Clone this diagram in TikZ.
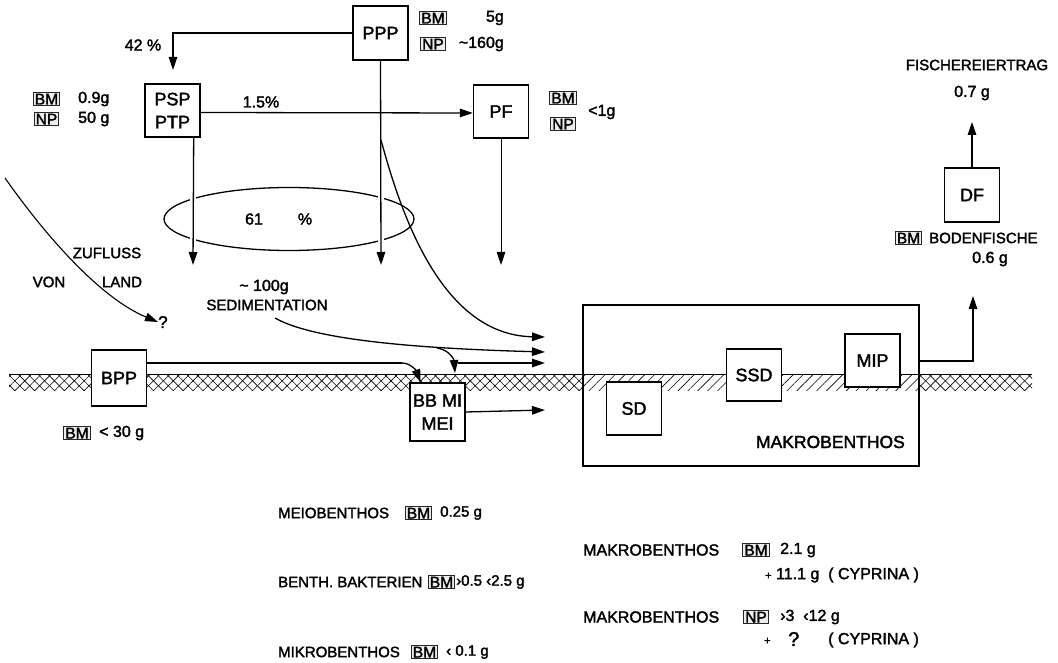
\documentclass[tikz,border=0pt]{standalone}
\usepackage{fontspec}
\setmainfont{Liberation Sans}[FakeBold=2]
\usetikzlibrary{arrows.meta,patterns.meta,shapes.geometric}
\begin{document}
\begin{tikzpicture}[x=1pt,y=-1pt,
  box/.style={draw, line width=1.4pt, fill=white, minimum width=55pt, minimum height=54pt, inner sep=0pt, align=center, font=\fontsize{18}{23}\selectfont},
  tag/.style={draw=black!85, fill=black!7, line width=1pt, inner xsep=1.6pt, inner ysep=1.4pt, text height=11pt, text depth=0pt, font=\fontsize{15.5}{14}\selectfont},
  lbl/.style={inner sep=0pt, font=\fontsize{16}{18}\selectfont},
  sml/.style={inner sep=0pt, font=\fontsize{15}{18}\selectfont},
  con/.style={line width=1.3pt},
  arr/.style={con, -{Triangle[length=13pt,width=8.5pt]}},
  mask/.style={draw=white, line width=6pt}]
\useasboundingbox (0,0) rectangle (1058,663);
\fill[white] (0,0) rectangle (1058,663);

% ground (sediment) band
\fill[pattern={Lines[angle=45,distance=7pt,line width=0.6pt]}] (9,374) rectangle (583,390);
\fill[pattern={Lines[angle=-45,distance=7pt,line width=0.6pt]}] (9,374) rectangle (583,390);
\fill[pattern={Lines[angle=45,distance=7pt,line width=0.6pt]}] (583,374) rectangle (919,390);
\fill[pattern={Lines[angle=45,distance=7pt,line width=0.6pt]}] (919,374) rectangle (1032,390);
\fill[pattern={Lines[angle=-45,distance=7pt,line width=0.6pt]}] (919,374) rectangle (1032,390);
\draw[line width=0.9pt] (9,374) -- (1032,374);

% makrobenthos container
\node[draw, line width=1.4pt, minimum width=336pt, minimum height=161pt, inner sep=0pt] (MB) at (751,385.5) {};
\node[lbl, anchor=east, font=\fontsize{17.5}{18}\selectfont] (mbl) at (905,442) {MAKROBENTHOS};

% boxes
\node[box] (PPP) at (380.5,33) {PPP};
\node[box, minimum height=53pt] (PSP) at (172.5,110.5) {PSP\\PTP};
\node[box, minimum height=53pt] (PF) at (501,111.5) {PF};
\node[box, minimum height=56pt] (BPP) at (119,378) {BPP};
\node[box, minimum height=58pt] (BB) at (437.5,412) {BB MI\\MEI};
\node[box, minimum height=53pt] (SD) at (634,408.5) {SD};
\node[box, minimum height=52pt] (SSD) at (754,375) {SSD};
\node[box, minimum height=53pt] (MIP) at (872.5,360.5) {MIP};
\node[box] (DF) at (972,195) {DF};

% ellipse 61 %
\node[draw, ellipse, line width=1.3pt, minimum width=250pt, minimum height=63pt, inner sep=0pt] (ell) at (289,219) {};
\node[lbl] (p61) at (254,219) {61};
\node[lbl] (pct) at (305,219) {\%};
\draw[mask] (193,180) -- (193,258);
\draw[mask] (381,180) -- (381,258);

% free end coordinates
\coordinate (t42) at (173,70);
\coordinate (tPSP) at (193,265);
\coordinate (tPPP) at (381,265);
\coordinate (tPF) at (501,265);
\coordinate (cPPP) at (381,140);
\coordinate (eCurve) at (545,337);
\coordinate (sedst) at (275,318);
\coordinate (sedbr) at (437,348);
\coordinate (eSed) at (545,352);
\coordinate (eSedB) at (455,373);
\coordinate (bppK) at (402,363);
\coordinate (bppR) at (458,363);
\coordinate (eBPP) at (545,363);
\coordinate (eBB) at (545,410);
\coordinate (land) at (5,178);
\coordinate (tDF) at (972,122);
\coordinate (tMB) at (973,296);

% connectors
\draw[arr] (PPP.west) -| (t42);
\draw[arr] ([xshift=-7pt]PSP.south east) -- (tPSP);
\draw[arr] (PPP.south) -- (tPPP);
\draw[arr, line width=1pt] (PF.south) -- (tPF);
\draw[arr] ([yshift=-2pt]PSP.east) -- ([yshift=-1.5pt]PF.west);
\draw[arr] (cPPP) .. controls (400,210) and (440,335) .. (eCurve);
\draw[arr] (sedst) .. controls (310,338) and (400,348) .. (eSed);
\draw[arr] (sedbr) .. controls (450,350) and (454,360) .. (eSedB);
\draw[con] ([yshift=15pt]BPP.east) -- (bppK);
\draw[arr] (bppK) .. controls (410,363) and (416,370) .. ([xshift=-17pt]BB.north);
\draw[arr] (bppR) -- (eBPP);
\draw[arr] (BB.east) -- (eBB);
\draw[arr] ([yshift=24.5pt]MB.east) -| (tMB);
\draw[arr] (DF.north) -- (tDF);

% von land
\node[lbl, anchor=west, font=\fontsize{17}{18}\selectfont] (q) at (158,322) {?};
\draw[arr, line width=1.1pt] (land) .. controls (45,235) and (100,298) .. (q.west);
\node[sml] (zu) at (107,253) {ZUFLUSS};
\node[sml] (von) at (49,282) {VON};
\node[sml] (lnd) at (122,282) {LAND};

% labels
\node[lbl] (l42) at (143,45) {42 \%};
\node[lbl] (l15) at (261,102) {1.5\%};
\node[lbl] (sed1) at (264,287) {\textasciitilde\ 100g};
\node[sml] (sed2) at (267,305) {SEDIMENTATION};

\node[tag] (bm1) at (46.5,99) {BM};
\node[lbl, anchor=west] at (78,99) {0.9g};
\node[tag] (np1) at (46.5,119) {NP};
\node[lbl, anchor=west] at (78,119) {50 g};

\node[tag] (bm2) at (433,18) {BM};
\node[lbl, anchor=east] at (504,18) {5g};
\node[tag] (np2) at (433,44) {NP};
\node[lbl, anchor=east] at (504,44) {\textasciitilde160g};

\node[tag] (bm3) at (563,98) {BM};
\node[tag] (np3) at (563,124) {NP};
\node[lbl, anchor=west] at (588,112) {<1g};

\node[tag] (bm4) at (77,433) {BM};
\node[lbl, anchor=west] at (99,433) {< 30 g};

\node[sml] (fe) at (977,65) {FISCHEREIERTRAG};
\node[lbl] (fe2) at (972,93) {0.7 g};
\node[tag] (bm5) at (908.5,238) {BM};
\node[sml, anchor=west] at (929,238) {BODENFISCHE};
\node[lbl] at (990,259) {0.6 g};

% bottom legend
\node[sml, anchor=west] at (278,513) {MEIOBENTHOS};
\node[tag] at (418.5,513) {BM};
\node[sml, anchor=west] at (440,513) {0.25 g};
\node[sml, anchor=west] at (278,582) {BENTH. BAKTERIEN};
\node[tag] at (441.5,582) {BM};
\node[sml, anchor=west] at (456,582) {›0.5 ‹2.5 g};
\node[sml, anchor=west] at (278,652) {MIKROBENTHOS};
\node[tag] at (424.5,652) {BM};
\node[sml, anchor=west] at (446,652) {‹ 0.1 g};

\node[lbl, anchor=west] at (583,550) {MAKROBENTHOS};
\node[tag] at (756,550) {BM};
\node[lbl, anchor=west] at (780,550) {2.1 g};
\node[lbl, anchor=west] at (765,575) {{\fontsize{11}{12}\selectfont +} 11.1 g \ ( CYPRINA )};
\node[lbl, anchor=west] at (583,617) {MAKROBENTHOS};
\node[tag] at (756,617) {NP};
\node[lbl, anchor=west] at (780,617) {›3 \ ‹12 g};
\node[lbl, anchor=west, font=\fontsize{11}{12}\selectfont] at (764,641) {+};
\node[lbl, anchor=west, font=\fontsize{20}{22}\selectfont] at (788,639) {?};
\node[lbl, anchor=west] at (828,640) {( CYPRINA )};
\end{tikzpicture}
\end{document}
